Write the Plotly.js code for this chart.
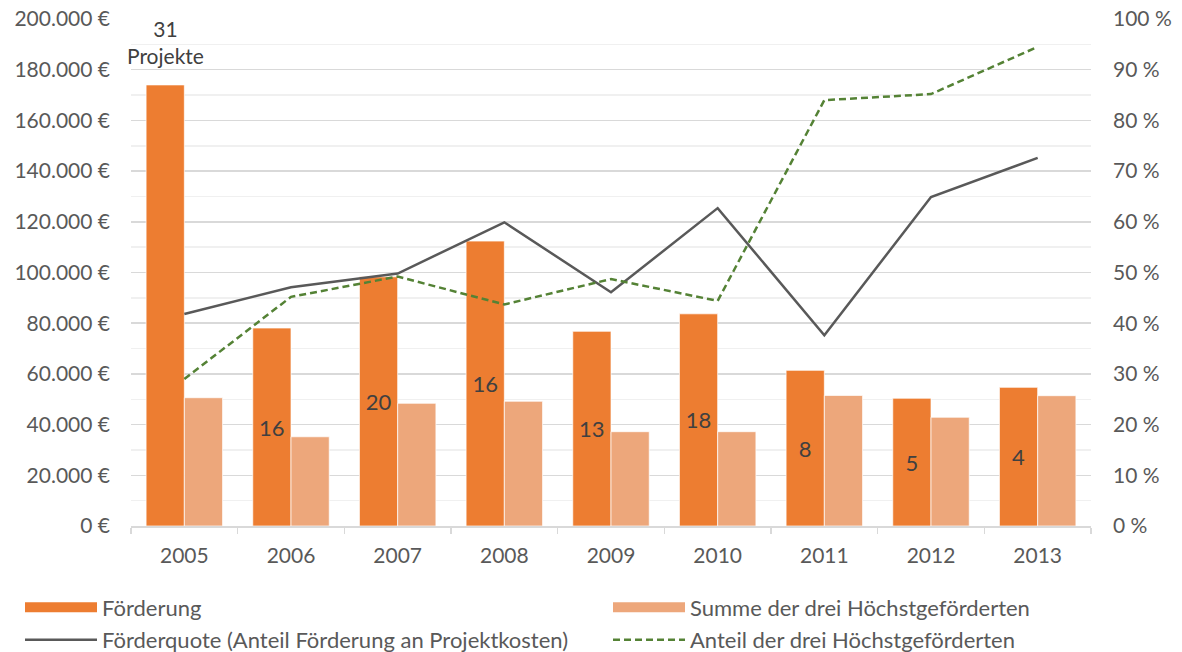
<!DOCTYPE html>
<html>
<head>
<meta charset="utf-8">
<script src="https://cdn.plot.ly/plotly-3.0.1.min.js"></script>
<style>
  html, body { margin: 0; padding: 0; background: #ffffff; }
  #chart { width: 1182px; height: 652px; }
</style>
</head>
<body>
<div id="chart"></div>
<script>
// ---- data ----
const years = ['2005', '2006', '2007', '2008', '2009', '2010', '2011', '2012', '2013'];
const foerderung = [174000, 78100, 98300, 112400, 76800, 83700, 61400, 50400, 54700];
const summeTop3 = [50600, 35200, 48400, 49200, 37200, 37200, 51500, 42900, 51400];
const foerderquote = [41.8, 47.1, 49.8, 59.9, 46.1, 62.7, 37.6, 64.9, 72.6];
const anteilTop3 = [29.0, 45.2, 49.2, 43.7, 48.7, 44.4, 84.0, 85.2, 94.5];
const projekte = [31, 16, 20, 16, 13, 18, 8, 5, 4];
const leftTicks = [0, 20000, 40000, 60000, 80000, 100000, 120000, 140000, 160000, 180000, 200000];
const rightTicks = [0, 10, 20, 30, 40, 50, 60, 70, 80, 90, 100];

const names = {
  f: 'Förderung',
  s: 'Summe der drei Höchstgeförderten',
  q: 'Förderquote (Anteil Förderung an Projektkosten)',
  a: 'Anteil der drei Höchstgeförderten'
};

// ---- helpers ----
function euro(v) { return String(v).replace(/\B(?=(\d{3})+(?!\d))/g, '.') + ' €'; }
function pct(v) { return v + ' %'; }

// ---- style ----
const FONT = 'Lato, "Open Sans", sans-serif';
const TXT = '#595959';
const C_F = '#ED7D31', C_S = '#EDA77B', C_Q = '#595959', C_A = '#548235';
const firstLabelY = 191000;

const barText = projekte.map((p, i) => i === 0 ? '' : String(p));
const barLine = { color: 'rgba(255,255,255,0.7)', width: 1 };

const traces = [
  {
    type: 'bar', name: names.f, x: years, y: foerderung, showlegend: false,
    marker: { color: C_F, line: barLine },
    text: barText, textposition: 'inside', insidetextanchor: 'middle',
    constraintext: 'none',
    insidetextfont: { family: FONT, size: 22, color: '#404040' },
    hoverinfo: 'x+y'
  },
  {
    type: 'bar', name: names.s, x: years, y: summeTop3, showlegend: false,
    marker: { color: C_S, line: barLine },
    hoverinfo: 'x+y'
  },
  {
    type: 'scatter', mode: 'lines', name: names.q, x: years, y: foerderquote,
    yaxis: 'y2', line: { color: C_Q, width: 2.5 }, showlegend: false
  },
  {
    type: 'scatter', mode: 'lines', name: names.a, x: years, y: anteilTop3,
    yaxis: 'y2', line: { color: C_A, width: 2.5, dash: '7px,4px' }, showlegend: false
  },
  // legend entries (Excel-like wide swatches)
  { type: 'scatter', mode: 'lines', name: names.f, x: [null], y: [null],
    line: { color: C_F, width: 13 }, legend: 'legend', legendgroup: 'g1', hoverinfo: 'skip' },
  { type: 'scatter', mode: 'lines', name: names.q, x: [null], y: [null],
    line: { color: C_Q, width: 2.5 }, legend: 'legend', legendgroup: 'g3', hoverinfo: 'skip' },
  { type: 'scatter', mode: 'lines', name: names.s, x: [null], y: [null],
    line: { color: C_S, width: 13 }, legend: 'legend2', legendgroup: 'g2', hoverinfo: 'skip' },
  { type: 'scatter', mode: 'lines', name: names.a, x: [null], y: [null],
    line: { color: C_A, width: 2.5, dash: '7px,4px' }, legend: 'legend2', legendgroup: 'g4', hoverinfo: 'skip' }
];

const legendCommon = {
  orientation: 'v', xanchor: 'left', yanchor: 'top', y: -0.119,
  itemwidth: 72, tracegroupgap: 1, bgcolor: 'rgba(0,0,0,0)',
  font: { family: FONT, size: 22, color: TXT }
};

const layout = {
  width: 1182, height: 652,
  margin: { l: 131, r: 91, t: 19, b: 126, pad: 0, autoexpand: false },
  paper_bgcolor: '#ffffff', plot_bgcolor: '#ffffff',
  font: { family: FONT, size: 21, color: TXT },
  barmode: 'group', bargap: 0.283, bargroupgap: 0,
  xaxis: {
    type: 'category', range: [-0.5, years.length - 0.5], automargin: false,
    showgrid: false, zeroline: false,
    showline: true, linecolor: '#d9d9d9', linewidth: 1.5,
    ticks: 'outside', ticklen: 6, tickcolor: '#d9d9d9', tickwidth: 1.5,
    tickson: 'boundaries', ticklabelstandoff: 10, tickangle: 0,
    tickfont: { family: FONT, size: 21, color: TXT }, fixedrange: true
  },
  yaxis: {
    range: [0, 200000], tickvals: leftTicks, ticktext: leftTicks.map(euro), automargin: false,
    showgrid: true, gridcolor: '#d9d9d9', gridwidth: 1.5,
    minor: { dtick: 10000, showgrid: true, gridcolor: '#f0f0f0', gridwidth: 1.5 },
    zeroline: false, showline: false, ticks: '', ticklabelstandoff: 20,
    tickfont: { family: FONT, size: 21, color: TXT }, fixedrange: true
  },
  yaxis2: {
    overlaying: 'y', side: 'right', range: [0, 100], tickvals: rightTicks, ticktext: rightTicks.map(pct),
    automargin: false, showgrid: false, zeroline: false, showline: false, ticks: '', ticklabelstandoff: 21,
    tickfont: { family: FONT, size: 21, color: TXT }, fixedrange: true
  },
  showlegend: true,
  legend: Object.assign({}, legendCommon, { x: (20 - 131) / 960 }),
  legend2: Object.assign({}, legendCommon, { x: (608 - 131) / 960 }),
  annotations: [
    {
      xref: 'x', yref: 'y', x: 0, y: firstLabelY, xshift: -19,
      text: projekte[0] + '<br>Projekte', showarrow: false,
      font: { family: FONT, size: 21, color: '#404040' }, align: 'center'
    }
  ]
};

Plotly.newPlot('chart', traces, layout, { displayModeBar: false, staticPlot: true });
</script>
</body>
</html>
